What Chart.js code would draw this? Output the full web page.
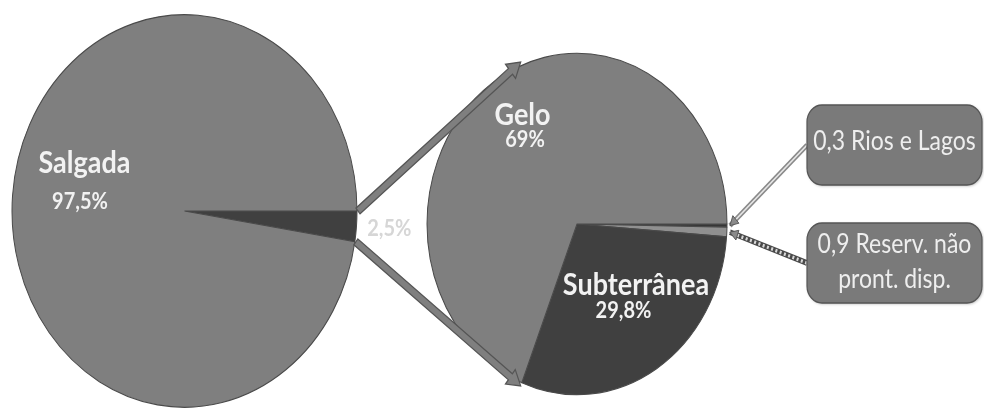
<!DOCTYPE html>
<html>
<head>
<meta charset="utf-8">
<script src="https://cdn.jsdelivr.net/npm/chart.js@4"></script>
<style>
  html, body { margin: 0; padding: 0; background: #ffffff; }
  #wrap { position: relative; width: 984px; height: 408px; overflow: hidden; }
  #wrap canvas { position: absolute; left: 0; top: 0; }
</style>
</head>
<body>
<div id="wrap">
  <canvas id="total" width="984" height="408"></canvas>
  <canvas id="doce" width="984" height="408"></canvas>
</div>
<script>
// Distribuição da água no planeta (%)
const totalLabels = ['Doce', 'Salgada'];
const totalValues = [2.5, 97.5];
const totalColors = ['#404040', '#7f7f7f'];

// Composição da água doce (%)
const doceLabels = ['Rios e Lagos', ['Reserv. não', 'pront. disp.'], 'Subterrânea', 'Gelo'];
const doceValues = [0.3, 0.9, 29.8, 69];
const doceColors = ['#363636', '#909090', '#404040', '#7f7f7f'];

// the figure is drawn slightly taller than wide
const K = 1.138;
const FONT = 'Lato, "Open Sans", sans-serif';

const fmt = v => String(v).replace('.', ',');

function pointOn(arc, ang, dr) {
  const r = arc.outerRadius + (dr || 0);
  return { x: arc.x + r * Math.cos(ang), y: arc.y + r * Math.sin(ang) };
}

function text(ctx, str, x, y, size, weight, color) {
  ctx.font = weight + ' ' + size + 'px ' + FONT;
  ctx.fillStyle = color;
  ctx.textAlign = 'center';
  ctx.textBaseline = 'alphabetic';
  ctx.fillText(str, x, y);
}

function blockArrow(ctx, p1, p2) {
  const ang = Math.atan2(p2.y - p1.y, p2.x - p1.x);
  const len = Math.hypot(p2.x - p1.x, p2.y - p1.y);
  const sw = 6.5, hw = 16, hl = 13;
  ctx.save();
  ctx.translate(p1.x, p1.y);
  ctx.rotate(ang);
  ctx.beginPath();
  ctx.moveTo(0, -sw / 2);
  ctx.lineTo(len - hl, -sw / 2);
  ctx.lineTo(len - hl, -hw / 2);
  ctx.lineTo(len, 0);
  ctx.lineTo(len - hl, hw / 2);
  ctx.lineTo(len - hl, sw / 2);
  ctx.lineTo(0, sw / 2);
  ctx.closePath();
  ctx.fillStyle = '#7f7f7f';
  ctx.fill();
  ctx.lineWidth = 1.2;
  ctx.strokeStyle = '#555555';
  ctx.stroke();
  ctx.restore();
}

function roundBox(ctx, x, y, w, h, r) {
  ctx.beginPath();
  ctx.moveTo(x + r, y);
  ctx.arcTo(x + w, y, x + w, y + h, r);
  ctx.arcTo(x + w, y + h, x, y + h, r);
  ctx.arcTo(x, y + h, x, y, r);
  ctx.arcTo(x, y, x + w, y, r);
  ctx.closePath();
}

function callout(ctx, from, to, style) {
  const ang = Math.atan2(to.y - from.y, to.x - from.x);
  ctx.save();
  ctx.lineCap = 'butt';
  if (style === 'double') {
    ctx.strokeStyle = '#8a8a8a'; ctx.lineWidth = 4.5;
    ctx.beginPath(); ctx.moveTo(from.x, from.y); ctx.lineTo(to.x, to.y); ctx.stroke();
    ctx.strokeStyle = '#e6e6e6'; ctx.lineWidth = 1.5;
    ctx.beginPath(); ctx.moveTo(from.x, from.y); ctx.lineTo(to.x, to.y); ctx.stroke();
  } else {
    ctx.strokeStyle = '#4a4a4a'; ctx.lineWidth = 5;
    ctx.beginPath(); ctx.moveTo(from.x, from.y); ctx.lineTo(to.x, to.y); ctx.stroke();
    ctx.strokeStyle = '#d8d8d8'; ctx.lineWidth = 3; ctx.setLineDash([2, 2.5]);
    ctx.beginPath(); ctx.moveTo(from.x, from.y); ctx.lineTo(to.x, to.y); ctx.stroke();
    ctx.setLineDash([]);
  }
  // small head at the pie end
  ctx.translate(to.x, to.y);
  ctx.rotate(ang);
  ctx.beginPath();
  ctx.moveTo(0, 0); ctx.lineTo(-8, -4.5); ctx.lineTo(-8, 4.5); ctx.closePath();
  ctx.fillStyle = '#8a8a8a';
  ctx.fill();
  ctx.strokeStyle = '#555'; ctx.lineWidth = 0.8; ctx.stroke();
  ctx.restore();
}

function baseOptions(padding, radius) {
  return {
    responsive: false,
    animation: false,
    devicePixelRatio: 1,
    rotation: 90,
    radius: radius,
    layout: { padding: padding },
    events: [],
    plugins: { legend: { display: false }, tooltip: { enabled: false } }
  };
}

// left pie: salgada x doce
const totalChart = new Chart(document.getElementById('total'), {
  type: 'pie',
  data: {
    labels: totalLabels,
    datasets: [{
      data: totalValues,
      backgroundColor: totalColors,
      borderColor: '#4a4a4a',
      borderWidth: 1
    }]
  },
  options: baseOptions({ left: 12, right: 627, top: 12.9, bottom: 50.1 }, 172.5),
  plugins: [{
    id: 'stretchTotal',
    beforeDraw(chart) { chart.ctx.save(); chart.ctx.scale(1, K); },
    afterDraw(chart) {
      const ctx = chart.ctx;
      const arcs = chart.getDatasetMeta(0).data;
      const c = arcs[1];
      text(ctx, totalLabels[1], c.x - 100, c.y - 33.4, 27, 'bold', '#f2f2f2');
      text(ctx, fmt(totalValues[1]) + '%', c.x - 104.5, c.y - 1.7, 20, 'bold', '#f2f2f2');
      const d = arcs[0];
      const mid = (d.startAngle + d.endAngle) / 2;
      const q = pointOn(d, mid, 33);
      text(ctx, fmt(totalValues[0]) + '%', q.x, q.y + 6, 20, 'bold', '#d6d6d6');
      ctx.restore();
    }
  }]
});

// right pie: composição da água doce
const doceChart = new Chart(document.getElementById('doce'), {
  type: 'pie',
  data: {
    labels: doceLabels,
    datasets: [{
      data: doceValues,
      backgroundColor: doceColors,
      borderColor: '#4a4a4a',
      borderWidth: 1
    }]
  },
  options: baseOptions({ left: 427, right: 257, top: 46.8, bottom: 61.2 }, 150),
  plugins: [{
    id: 'stretchDoce',
    beforeDraw(chart) { chart.ctx.save(); chart.ctx.scale(1, K); },
    afterDraw(chart) {
      const ctx = chart.ctx;
      const arcs = chart.getDatasetMeta(0).data;
      const c = arcs[3];

      // slice labels
      text(ctx, doceLabels[3], c.x - 54.5, c.y - 87, 27, 'bold', '#f2f2f2');
      text(ctx, fmt(doceValues[3]) + '%', c.x - 52, c.y - 67.9, 20, 'bold', '#f2f2f2');
      text(ctx, doceLabels[2], c.x + 59, c.y + 62.4, 27, 'bold', '#f2f2f2');
      text(ctx, fmt(doceValues[2]) + '%', c.x + 46.5, c.y + 82.6, 20, 'bold', '#f2f2f2');

      // arrows from the 2,5% slice to the freshwater pie
      const d = totalChart.getDatasetMeta(0).data[0];
      const sub = arcs[2];
      blockArrow(ctx, pointOn(d, d.startAngle, 1), pointOn(sub, -sub.endAngle, 3));
      blockArrow(ctx, pointOn(d, d.endAngle, 1), pointOn(sub, sub.endAngle, 3));

      // callout boxes
      const boxes = [
        { x: 807, y: 92.3, w: 175, h: 70.3, lines: [fmt(doceValues[0]) + ' ' + doceLabels[0]], base: [131.8], style: 'double' },
        { x: 807, y: 196, w: 175, h: 70.3, lines: [fmt(doceValues[1]) + ' ' + doceLabels[1][0], doceLabels[1][1]], base: [222.6, 253.4], style: 'hatch' }
      ];
      boxes.forEach((b, i) => {
        const a = arcs[i];
        const tip = pointOn(a, (a.startAngle + a.endAngle) / 2, 3);
        callout(ctx, { x: b.x, y: b.y + b.h / 2 }, tip, b.style);
        ctx.save();
        ctx.shadowColor = 'rgba(0,0,0,0.3)';
        ctx.shadowBlur = 3; ctx.shadowOffsetX = 1; ctx.shadowOffsetY = 1;
        roundBox(ctx, b.x, b.y, b.w, b.h, 15);
        ctx.fillStyle = '#7a7a7a';
        ctx.fill();
        ctx.restore();
        roundBox(ctx, b.x, b.y, b.w, b.h, 15);
        ctx.lineWidth = 1.2; ctx.strokeStyle = '#555555'; ctx.stroke();
        b.lines.forEach((ln, j) => text(ctx, ln, b.x + b.w / 2, b.base[j], 23, 'normal', '#eeeeee'));
      });
      ctx.restore();
    }
  }]
});
</script>
</body>
</html>
